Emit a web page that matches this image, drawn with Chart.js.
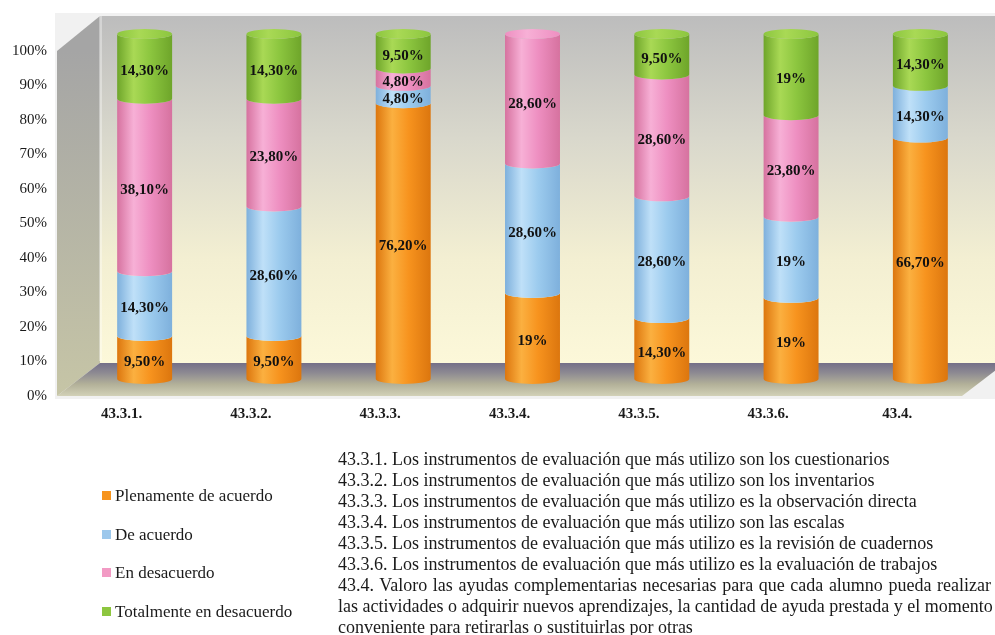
<!DOCTYPE html>
<html>
<head>
<meta charset="utf-8">
<script src="https://cdn.jsdelivr.net/npm/chart.js@4/dist/chart.umd.min.js"></script>
<style>
  html, body { margin: 0; padding: 0; background: #fff; overflow: hidden; }
  #wrap { position: relative; width: 995px; height: 635px; }
  #wrap canvas { position: absolute; left: 0; top: 0; }
  .serif { font-family: "Liberation Serif", "Times New Roman", serif; color: #1a1a1a; }
  #legend { position: absolute; left: 102px; top: 486px; font-size: 17px; }
  #legend .item { position: absolute; left: 0; height: 20px; line-height: 20px; white-space: nowrap; }
  #legend .box { position: absolute; left: 0; top: 5px; width: 9px; height: 9px; }
  #legend .txt { position: absolute; left: 13px; top: 0; }
  #notes { position: absolute; left: 338px; top: 449px; font-size: 18px; line-height: 21px; }
  #notes div { white-space: nowrap; }
  #notes .just { width: 653px; text-align: justify; text-align-last: justify; white-space: normal; }
</style>
</head>
<body>
<div id="wrap">
  <canvas id="chart" width="995" height="635"></canvas>
  <div id="legend" class="serif"></div>
  <div id="notes" class="serif"></div>
</div>
<script>
"use strict";

// DATA -----------------------
const categories = ['43.3.1.', '43.3.2.', '43.3.3.', '43.3.4.', '43.3.5.', '43.3.6.', '43.4.'];

const plenamente = [9.5, 9.5, 76.2, 19, 14.3, 19, 66.7];
const deAcuerdo = [14.3, 28.6, 4.8, 28.6, 28.6, 19, 14.3];
const enDesacuerdo = [38.1, 23.8, 4.8, 28.6, 28.6, 23.8, 0];
const totalmente = [14.3, 14.3, 9.5, 0, 9.5, 19, 14.3];

const seriesNames = ['Plenamente de acuerdo', 'De acuerdo', 'En desacuerdo', 'Totalmente en desacuerdo'];
const seriesValues = [plenamente, deAcuerdo, enDesacuerdo, totalmente];

const yTickStep = 10;
const yMax = 100;

const notes = [
  '43.3.1. Los instrumentos de evaluación que más utilizo son los cuestionarios',
  '43.3.2. Los instrumentos de evaluación que más utilizo son los inventarios',
  '43.3.3. Los instrumentos de evaluación que más utilizo es la observación directa',
  '43.3.4. Los instrumentos de evaluación que más utilizo son las escalas',
  '43.3.5. Los instrumentos de evaluación que más utilizo es la revisión de cuadernos',
  '43.3.6. Los instrumentos de evaluación que más utilizo es la evaluación de trabajos',
  '43.4. Valoro las ayudas complementarias necesarias para que cada alumno pueda realizar',
  'las actividades o adquirir nuevos aprendizajes, la cantidad de ayuda prestada y el momento',
  'conveniente para retirarlas o sustituirlas por otras'
];

// STYLE -----------------------
// base, light, dark shades for each cylinder
const shades = [
  ['#f7931e', '#fbb040', '#dc760e'],
  ['#9ccbee', '#bfe0f8', '#7eb0dc'],
  ['#ee8fc1', '#f7b0d6', '#d6729f'],
  ['#8cc63f', '#a9d955', '#6ea52a']
];
const legendColors = ['#f7941d', '#9dc8ec', '#f29ac4', '#8dc63f'];

const SERIF = '"Liberation Serif", "Times New Roman", serif';
const DEPTH = { x: 43, y: -33 };      // depth of the 3D box
const BAR_SHIFT = { x: 23, y: -17 };  // cylinders sit halfway into the box
const CAP_RY = 5;

// each column is stacked to 100%
const totals = categories.map((c, i) => seriesValues.reduce((s, arr) => s + arr[i], 0));
const shares = seriesValues.map(arr => arr.map((v, i) => v / totals[i] * 100));

// FUNCTIONS -----------------------
function formatValue(v) {
  return Number.isInteger(v) ? v + '%' : v.toFixed(2).replace('.', ',') + '%';
}

function sideGradient(ctx, cx, rx, s) {
  const g = ctx.createLinearGradient(cx - rx, 0, cx + rx, 0);
  g.addColorStop(0, s[2]);
  g.addColorStop(0.3, s[1]);
  g.addColorStop(0.6, s[0]);
  g.addColorStop(1, s[2]);
  return g;
}

// walls and floor behind the cylinders
const boxPlugin = {
  id: 'box3d',
  beforeDraw(chart) {
    const { ctx, chartArea: a } = chart;
    const l = a.left, r = a.right, t = a.top, b = a.bottom;
    ctx.save();

    ctx.fillStyle = '#f1f1f1';
    ctx.fillRect(l - 2, t + DEPTH.y - 5, r + DEPTH.x - l + 2, b - t - DEPTH.y + 8);

    // back wall
    let g = ctx.createLinearGradient(0, t + DEPTH.y, 0, b + DEPTH.y);
    g.addColorStop(0, '#bdbdbd');
    g.addColorStop(0.35, '#d9d8cc');
    g.addColorStop(0.7, '#f3efd2');
    g.addColorStop(1, '#fcf8d9');
    ctx.fillStyle = g;
    ctx.fillRect(l + DEPTH.x, t + DEPTH.y - 2, r - l, b - t + 2);

    // left wall
    g = ctx.createLinearGradient(0, t, 0, b);
    g.addColorStop(0, '#a5a5a5');
    g.addColorStop(1, '#c6c5a6');
    ctx.fillStyle = g;
    ctx.beginPath();
    ctx.moveTo(l, t);
    ctx.lineTo(l + DEPTH.x, t + DEPTH.y - 2);
    ctx.lineTo(l + DEPTH.x, b + DEPTH.y);
    ctx.lineTo(l, b);
    ctx.closePath();
    ctx.fill();

    ctx.fillStyle = 'rgba(255,255,255,0.35)';
    ctx.fillRect(l + DEPTH.x - 1, t + DEPTH.y - 2, 3, b - t);

    // floor
    g = ctx.createLinearGradient(0, b + DEPTH.y, 0, b);
    g.addColorStop(0, '#746f88');
    g.addColorStop(0.3, '#8d8a92');
    g.addColorStop(0.65, '#b3b199');
    g.addColorStop(1, '#d2d1b7');
    ctx.fillStyle = g;
    ctx.beginPath();
    ctx.moveTo(l, b);
    ctx.lineTo(l + DEPTH.x, b + DEPTH.y);
    ctx.lineTo(r + DEPTH.x, b + DEPTH.y);
    ctx.lineTo(r, b);
    ctx.closePath();
    ctx.fill();

    ctx.restore();
  },
  // the cylinders replace the flat bars
  beforeDatasetDraw() {
    return false;
  },
  afterDatasetsDraw(chart) {
    const ctx = chart.ctx;
    const metas = chart.data.datasets.map((d, i) => chart.getDatasetMeta(i));
    const labels = [];
    ctx.save();
    categories.forEach((c, i) => {
      let topIdx = -1;
      seriesValues.forEach((arr, d) => { if (arr[i] > 0) topIdx = d; });
      metas.forEach((meta, d) => {
        const v = seriesValues[d][i];
        if (!v) return;
        const el = meta.data[i];
        const { x, y, base, width } = el.getProps(['x', 'y', 'base', 'width'], true);
        const cx = x + BAR_SHIFT.x, rx = width / 2;
        const yt = y + BAR_SHIFT.y, yb = base + BAR_SHIFT.y;
        ctx.fillStyle = sideGradient(ctx, cx, rx, shades[d]);
        ctx.beginPath();
        ctx.moveTo(cx - rx, yt);
        ctx.lineTo(cx - rx, yb);
        ctx.ellipse(cx, yb, rx, CAP_RY, 0, Math.PI, 0, true);
        ctx.lineTo(cx + rx, yt);
        ctx.ellipse(cx, yt, rx, CAP_RY, 0, 0, Math.PI, false);
        ctx.closePath();
        ctx.fill();
        if (d === topIdx) {
          const g = ctx.createLinearGradient(cx - rx, 0, cx + rx, 0);
          g.addColorStop(0, shades[d][0]);
          g.addColorStop(0.4, shades[d][1]);
          g.addColorStop(1, shades[d][0]);
          ctx.fillStyle = g;
          ctx.beginPath();
          ctx.ellipse(cx, yt, rx, CAP_RY, 0, 0, Math.PI * 2);
          ctx.fill();
        }
        labels.push([formatValue(v), cx, (yt + yb) / 2 + 5]);
      });
    });
    ctx.fillStyle = '#111';
    ctx.font = 'bold 15px ' + SERIF;
    ctx.textAlign = 'center';
    ctx.textBaseline = 'middle';
    labels.forEach(([txt, lx, ly]) => ctx.fillText(txt, lx, ly));
    ctx.restore();
  }
};

// CHART -----------------------
const chart = new Chart(document.getElementById('chart'), {
  type: 'bar',
  data: {
    labels: categories,
    datasets: seriesNames.map((name, d) => ({
      label: name,
      data: shares[d],
      backgroundColor: legendColors[d],
      borderWidth: 0,
      barPercentage: 0.425,
      categoryPercentage: 1
    }))
  },
  options: {
    responsive: false,
    animation: false,
    events: [],
    layout: { padding: { left: 0, top: 51, right: 33, bottom: 205 } },
    plugins: { legend: { display: false }, tooltip: { enabled: false } },
    scales: {
      x: {
        stacked: true,
        grid: { display: false },
        border: { display: false },
        ticks: { color: '#1a1a1a', padding: 1, font: { family: SERIF, size: 15, weight: 'bold' } },
        afterFit(scale) { scale.height = 34; }
      },
      y: {
        stacked: true,
        min: 0,
        max: yMax,
        grid: { display: false },
        border: { display: false },
        ticks: {
          stepSize: yTickStep,
          padding: 2,
          color: '#1a1a1a',
          font: { family: SERIF, size: 15 },
          callback: v => v + '%'
        },
        afterFit(scale) { scale.width = 57; }
      }
    }
  },
  plugins: [boxPlugin]
});

// legend and item descriptions below the chart
const legendEl = document.getElementById('legend');
chart.data.datasets.forEach((ds, d) => {
  const item = document.createElement('div');
  item.className = 'item';
  item.style.top = (d * 38.5) + 'px';
  item.innerHTML = '<span class="box" style="background:' + ds.backgroundColor + '"></span><span class="txt"></span>';
  item.querySelector('.txt').textContent = ds.label;
  legendEl.appendChild(item);
});

const notesEl = document.getElementById('notes');
notes.forEach((line, i) => {
  const div = document.createElement('div');
  div.textContent = line;
  if (i === 6) div.className = 'just';
  notesEl.appendChild(div);
});
</script>
</body>
</html>
